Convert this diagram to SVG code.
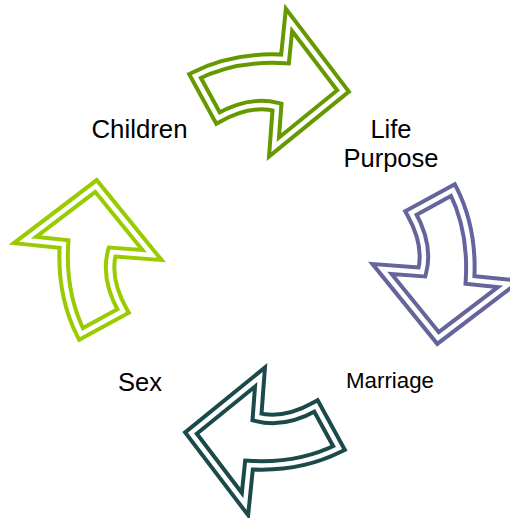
<svg xmlns="http://www.w3.org/2000/svg" xmlns:xlink="http://www.w3.org/1999/xlink" width="510" height="518" viewBox="0 0 510 518">
<style>
.lbl{font-family:"Liberation Sans",Arial,sans-serif;fill:#000;text-anchor:middle}
.outer{fill:#fff;stroke-width:12.5;stroke-linejoin:miter;stroke-miterlimit:10}
.inner{fill:none;stroke:#fff;stroke-width:4.5;stroke-linejoin:miter;stroke-miterlimit:10}
</style>
<defs>
<path id="arr" d="M195,76 Q235,56 285,59 L289,20 L343,91 L274,147 L277,107 Q250,100 218,118 Z"/>
</defs>
<rect width="510" height="518" fill="#fff"/>
<g id="connectors">
<g id="arrow-top">
<use xlink:href="#arr" class="outer" stroke="#669900"/>
<use xlink:href="#arr" class="inner"/>
</g>
<g id="arrow-right" transform="rotate(90 267 262)">
<use xlink:href="#arr" class="outer" stroke="#65659c"/>
<use xlink:href="#arr" class="inner"/>
</g>
<g id="arrow-bottom" transform="rotate(180 267 262)">
<use xlink:href="#arr" class="outer" stroke="#1b4a4b"/>
<use xlink:href="#arr" class="inner"/>
</g>
<g id="arrow-left" transform="rotate(270 267 262)">
<use xlink:href="#arr" class="outer" stroke="#99cc00"/>
<use xlink:href="#arr" class="inner"/>
</g>
</g>
<g id="node-children"><text class="lbl" x="139.5" y="138" font-size="25.8">Children</text></g>
<g id="node-life-purpose"><text class="lbl" x="391" y="138" font-size="25.5">Life</text><text class="lbl" x="391" y="167" font-size="25.5">Purpose</text></g>
<g id="node-marriage"><text class="lbl" x="390" y="388" font-size="22.3">Marriage</text></g>
<g id="node-sex"><text class="lbl" x="140" y="391" font-size="25.5">Sex</text></g>
</svg>
